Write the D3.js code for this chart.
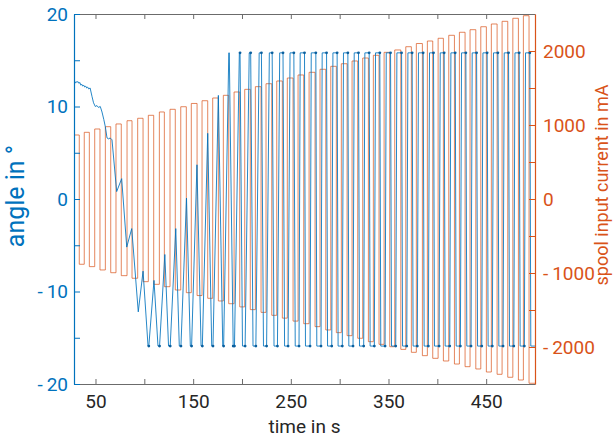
<!DOCTYPE html>
<html>
<head>
<meta charset="utf-8">
<script src="https://cdn.jsdelivr.net/npm/d3@7"></script>
<style>
  body { margin: 0; background: #fff; }
  text { font-family: Roboto, "DejaVu Sans", sans-serif; }
</style>
</head>
<body>
<svg id="chart" width="615" height="437"></svg>
<script>
// spool input current, square wave: edge times (s) and plateau levels (mA)
var currentFall = [33.4, 43.7, 54.6, 65.6, 76.4, 87.4, 98.7, 109.6, 120.5, 131.7, 143.0, 154.0, 164.9, 175.8, 186.4,
  197.7, 208.5, 219.5, 230.5, 241.3, 252.3, 263.2, 274.8, 285.8, 296.6, 307.6, 318.5, 329.4, 340.3, 351.3, 362.6,
  373.4, 384.7, 395.3, 406.2, 417.5, 428.4, 439.4, 450.2, 461.2, 472.1, 483.0, 493.9];
var currentRise = [38.5, 49.2, 60.1, 71.0, 82.3, 93.2, 104.1, 115.4, 126.3, 137.3, 148.1, 159.1, 170.0, 180.9, 191.9,
  202.8, 213.7, 224.6, 235.6, 246.4, 257.4, 268.7, 279.9, 290.9, 301.7, 312.7, 323.6, 334.5, 345.5, 356.4, 367.7,
  378.5, 389.8, 400.8, 411.7, 422.6, 433.5, 444.5, 455.3, 466.3, 477.3, 488.1];
var currentHigh = [865, 901, 946, 977, 1014, 1058, 1091, 1131, 1176, 1212, 1247, 1291, 1328, 1365, 1401, 1446, 1482,
  1518, 1558, 1595, 1635, 1676, 1712, 1753, 1793, 1828, 1865, 1905, 1942, 1982, 2014, 2058, 2101, 2135, 2172, 2212,
  2253, 2288, 2328, 2365, 2401, 2442, 2477];
var currentLow = [-882, -914, -959, -996, -1036, -1071, -1117, -1153, -1185, -1230, -1266, -1305, -1342, -1378, -1415,
  -1458, -1495, -1532, -1572, -1610, -1650, -1685, -1725, -1770, -1806, -1847, -1882, -1928, -1964, -1996, -2032,
  -2072, -2117, -2153, -2189, -2230, -2266, -2297, -2338, -2369, -2409, -2446, -2490];

// angle before saturation (s, deg)
var driftTime = [28.0, 29.0, 30.0, 31.0, 32.0, 33.0, 34.0, 35.0, 36.0, 37.0, 38.0, 39.0, 40.0, 41.0, 42.0, 43.0, 44.5,
  46.4, 48.0, 49.8, 51.5, 53.0, 54.9, 56.7, 58.5, 60.1, 61.8, 63.5, 65.0, 66.9, 71.7, 76.8, 82.0, 87.1, 93.8, 98.7,
  103.8, 104.6, 109.9, 114.0, 115.6, 121.0, 124.8, 126.5, 132.2, 135.8, 137.5, 143.2, 147.1, 148.4, 153.9, 158.1,
  159.4, 164.9, 169.0, 170.3, 175.8, 180.3, 181.2, 186.5, 187.0, 191.0];
var driftAngle = [12.6, 12.5, 12.7, 12.6, 12.7, 12.5, 12.6, 12.3, 12.4, 12.2, 12.3, 12.1, 12.2, 12.0, 12.1, 11.9, 12.0,
  11.1, 10.4, 10.0, 10.1, 9.9, 10.0, 9.4, 8.6, 7.8, 6.6, 6.5, 6.6, 6.4, 0.8, 2.2, -5.2, -3.2, -12.2, -7.8,
  -15.9, -15.9, -8.8, -15.9, -15.9, -6.0, -15.9, -15.9, -3.2, -15.9, -15.9, 0.1, -15.9, -15.9, 3.7, -15.9,
  -15.9, 7.1, -15.9, -15.9, 11.2, -15.9, -15.9, 15.8, 15.8, -15.9];

// angle once it swings between the stops (s)
var satRiseStart = [192.3, 203.2, 214.2, 225.2, 236.3, 247.2, 258.4, 269.7, 280.9, 291.9, 302.7, 313.7, 324.6, 335.5,
  346.5, 357.4, 368.7, 379.5, 390.8, 401.8, 412.7, 423.6, 434.5, 445.5, 456.3, 467.3, 478.3, 489.1];
var satRiseEnd = [197.3, 207.4, 217.6, 228.0, 238.6, 249.2, 259.6, 270.9, 282.1, 293.1, 303.9, 314.9, 325.8, 336.7,
  347.7, 358.6, 369.9, 380.7, 392.0, 403.0, 413.9, 424.8, 435.7, 446.7, 457.5, 468.5, 479.5, 490.3];
var satFallStart = [198.0, 208.9, 219.9, 230.9, 242.0, 253.1, 264.0, 275.6, 286.6, 297.4, 308.4, 319.3, 330.2, 341.1,
  352.1, 363.4, 374.2, 385.5, 396.1, 407.0, 418.3, 429.2, 440.2, 451.0, 462.0, 472.9, 483.8, 494.7];
var satFallEnd = [200.5, 211.3, 222.0, 232.8, 243.6, 254.5, 265.0, 276.6, 287.6, 298.4, 309.4, 320.3, 331.2, 342.1,
  353.1, 364.4, 375.2, 386.5, 397.1, 408.0, 419.3, 430.2, 441.2, 452.0, 463.0, 473.9, 484.8, 495.7];
var satHigh = 15.8, satLow = -15.9;

var timeTicks = [50, 100, 150, 200, 250, 300, 350, 400, 450];
var timeLabels = [50, 150, 250, 350, 450];
var angleTicks = [-20, -15, -10, -5, 0, 5, 10, 15, 20];
var angleLabels = [-20, -10, 0, 10, 20];
var currentTicks = [-2000, -1500, -1000, -500, 0, 500, 1000, 1500, 2000];
var currentLabels = [-2000, -1000, 0, 1000, 2000];

var blue = "#0072BD", orange = "#D95319";
var plotL = 74, plotR = 535, plotT = 14, plotB = 384;

var svg = d3.select("#chart");
var x = d3.scaleLinear().domain([28, 500]).range([plotL, plotR]);
var yA = d3.scaleLinear().domain([-20, 20]).range([plotB, plotT]);
var yC = d3.scaleLinear().domain([-2500, 2500]).range([plotB, plotT]);

// current trace
var cur = [[28, currentHigh[0]]];
currentFall.forEach(function (f, i) {
  cur.push([f, currentHigh[i]]);
  cur.push([f, currentLow[i]]);
  if (i < currentRise.length) {
    cur.push([currentRise[i], currentLow[i]]);
    cur.push([currentRise[i], currentHigh[i + 1]]);
  }
});
cur.push([500, currentLow[currentLow.length - 1]]);

svg.append("path")
  .attr("d", d3.line().x(function (d) { return x(d[0]); }).y(function (d) { return yC(d[1]); })(cur))
  .attr("fill", "none").attr("stroke", orange).attr("stroke-width", 1).attr("stroke-opacity", 0.7);

// angle trace
var ang = driftTime.map(function (t, i) { return [t, driftAngle[i]]; });
satRiseStart.forEach(function (t, i) {
  ang.push([t, satLow]);
  ang.push([satRiseEnd[i], satHigh]);
  ang.push([satFallStart[i], satHigh]);
  ang.push([satFallEnd[i], satLow]);
});
ang.push([500, satLow]);

svg.append("path")
  .attr("d", d3.line().x(function (d) { return x(d[0]); }).y(function (d) { return yA(d[1]); })(ang))
  .attr("fill", "none").attr("stroke", blue).attr("stroke-width", 1).attr("stroke-opacity", 0.85)
  .attr("stroke-linejoin", "round");

// darker blobs where the angle sits on its stops
var stops = [];
satFallStart.forEach(function (t, i) { stops.push([t, satHigh]); });
satRiseStart.forEach(function (t, i) { stops.push([t, satLow]); });
driftAngle.forEach(function (a, i) {
  if (a === satLow && driftAngle[i + 1] !== satLow) stops.push([driftTime[i], a]);
});
svg.append("g").selectAll("circle").data(stops).join("circle")
  .attr("cx", function (d) { return x(d[0]); })
  .attr("cy", function (d) { return yA(d[1]); })
  .attr("r", 1.4).attr("fill", "#0a5f9e");

// axes
function styleAxis(g, col, textCol) {
  g.select(".domain").attr("stroke", col);
  g.selectAll(".tick line").attr("stroke", col);
  g.selectAll(".tick text").attr("fill", textCol).attr("font-size", 19);
}

var gx = svg.append("g").attr("transform", "translate(0," + plotB + ")")
  .call(d3.axisBottom(x).tickValues(timeTicks).tickSizeInner(-5).tickSizeOuter(0).tickPadding(11)
    .tickFormat(function (d) { return timeLabels.indexOf(d) >= 0 ? d : ""; }));
styleAxis(gx, "#6b6b6b", "#262626");

var gt = svg.append("g").attr("transform", "translate(0," + plotT + ")")
  .call(d3.axisTop(x).tickValues(timeTicks).tickSizeInner(-5).tickSizeOuter(0).tickFormat(""));
styleAxis(gt, "#6b6b6b", "#262626");

var gl = svg.append("g").attr("transform", "translate(" + plotL + ",0)")
  .call(d3.axisLeft(yA).tickValues(angleTicks).tickSizeInner(-6).tickSizeOuter(0).tickPadding(6)
    .tickFormat(function (d) { return angleLabels.indexOf(d) >= 0 ? String(d).replace("-", "-\u2009") : ""; }));
styleAxis(gl, blue, blue);

var gr = svg.append("g").attr("transform", "translate(" + plotR + ",0)")
  .call(d3.axisRight(yC).tickValues(currentTicks).tickSizeInner(-6).tickSizeOuter(0).tickPadding(8)
    .tickFormat(function (d) { return currentLabels.indexOf(d) >= 0 ? String(d).replace("-", "-\u2009") : ""; }));
styleAxis(gr, orange, orange);

svg.selectAll(".domain").attr("stroke-width", 1.2);

// axis titles
svg.append("text").attr("x", (plotL + plotR) / 2).attr("y", 433)
  .attr("text-anchor", "middle").attr("fill", "#262626").attr("font-size", 19)
  .text("time in s");

svg.append("text").attr("transform", "translate(24,196) rotate(-90)")
  .attr("text-anchor", "middle").attr("fill", blue).attr("font-size", 25)
  .text("angle in °");

svg.append("text").attr("transform", "translate(602,185) rotate(-90)")
  .attr("text-anchor", "middle").attr("dy", "0.35em").attr("fill", orange).attr("font-size", 18)
  .text("spool input current in mA");
</script>
</body>
</html>
